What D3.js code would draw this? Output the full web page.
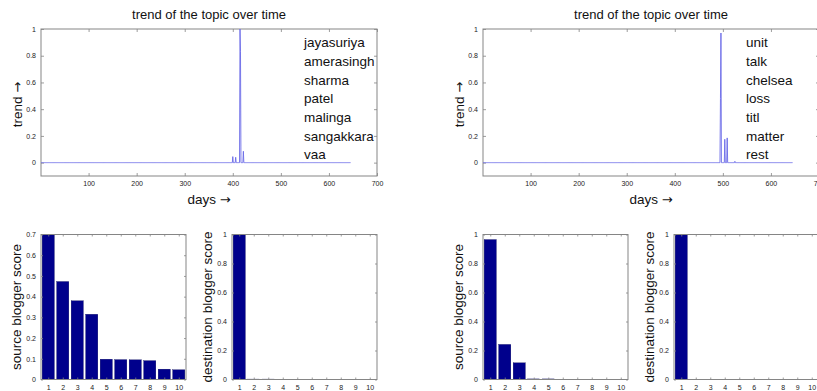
<!DOCTYPE html>
<html><head><meta charset="utf-8">
<script src="https://cdn.jsdelivr.net/npm/d3@7"></script>
<style>
html,body{margin:0;padding:0;background:#fff;overflow:hidden}
svg{display:block;font-family:"Liberation Sans",Arial,Helvetica,sans-serif}
</style></head><body>
<svg id="fig" width="817" height="391"></svg>
<script>
// ---- data ----
const dayCount = 645;                       // days covered by each trend series
const leftPeakDays   = [400, 406, 415, 416, 422];
const leftPeakValues = [0.045, 0.04, 1.0, 0.83, 0.085];
const rightPeakDays   = [495, 496, 504, 509, 525];
const rightPeakValues = [0.48, 0.97, 0.175, 0.185, 0.01];

const leftWords  = ["jayasuriya", "amerasingh", "sharma", "patel", "malinga", "sangakkara", "vaa"];
const rightWords = ["unit", "talk", "chelsea", "loss", "titl", "matter", "rest"];

const dayTicks   = [100, 200, 300, 400, 500, 600, 700];
const trendTicks = [0, 0.2, 0.4, 0.6, 0.8, 1];

const ranks       = [1, 2, 3, 4, 5, 6, 7, 8, 9, 10];
const leftSource  = [0.70, 0.473, 0.380, 0.315, 0.098, 0.096, 0.095, 0.091, 0.050, 0.047];
const leftDest    = [1.0, 0.003, 0.003, 0.002, 0.001, 0, 0, 0, 0, 0];
const rightSource = [0.965, 0.242, 0.115, 0.004, 0.004, 0.001, 0.001, 0.001, 0.001, 0.001];
const rightDest   = [1.0, 0.002, 0.002, 0.002, 0.001, 0.001, 0, 0, 0, 0];

const sourceTicksLeft = [0, 0.1, 0.2, 0.3, 0.4, 0.5, 0.6, 0.7];
const unitTicks       = [0, 0.2, 0.4, 0.6, 0.8, 1];

// ---- styling ----
const AXIS = "#858585";
const LABEL = "#1a1a1a";
const LINE = "#6a6ae8";
const BAR = "#00008c";
const TICKFONT = "7px";
const BIGFONT = "13.5px";

const svg = d3.select("#fig");

function series(peakDays, peakValues) {
  const lookup = new Map(peakDays.map((d, i) => [d, peakValues[i]]));
  return d3.range(1, dayCount + 1).map(d => ({ day: d, v: lookup.has(d) ? lookup.get(d) : 0 }));
}

function styleAxis(g, labels) {
  g.select(".domain").remove();
  g.selectAll(".tick line").attr("stroke", AXIS).attr("stroke-width", 0.8);
  g.selectAll(".tick text").attr("fill", LABEL).style("font-size", TICKFONT)
    .style("font-family", '"Liberation Sans",Arial,sans-serif');
  if (!labels) g.selectAll(".tick text").remove();
}

function box(g, x0, x1, y0, y1) {
  g.append("rect").attr("x", x0).attr("y", y0).attr("width", x1 - x0).attr("height", y1 - y0)
    .attr("fill", "none").attr("stroke", AXIS).attr("stroke-width", 1);
}

// label text followed by a long arrow drawn from DejaVu Sans
function arrowLabel(sel, word) {
  sel.append("tspan").text(word + " ");
  sel.append("tspan").style("font-family", '"DejaVu Sans",sans-serif').style("font-size", "13px").text("\u2192");
}

function trendPanel(ox, peakDays, peakValues, words) {
  const x0 = 41 + ox, x1 = 377 + ox, y0 = 29, y1 = 176;
  const x = d3.scaleLinear().domain([1, 700]).range([x0, x1]);
  const y = d3.scaleLinear().domain([-0.1, 1]).range([y1, y0]);
  const g = svg.append("g");
  const tl = 3;

  g.append("g").attr("transform", `translate(0,${y1})`)
    .call(d3.axisBottom(x).tickValues(dayTicks).tickSize(-tl).tickPadding(5))
    .call(a => styleAxis(a, true));
  g.append("g").attr("transform", `translate(0,${y0})`)
    .call(d3.axisTop(x).tickValues(dayTicks).tickSize(-tl))
    .call(a => styleAxis(a, false));
  g.append("g").attr("transform", `translate(${x0},0)`)
    .call(d3.axisLeft(y).tickValues(trendTicks).tickSize(-tl).tickPadding(5).tickFormat(d3.format("")))
    .call(a => styleAxis(a, true));
  g.append("g").attr("transform", `translate(${x1},0)`)
    .call(d3.axisRight(y).tickValues(trendTicks).tickSize(-tl))
    .call(a => styleAxis(a, false));
  box(g, x0, x1, y0, y1);

  const data = series(peakDays, peakValues);
  g.append("path").datum(data)
    .attr("fill", "none").attr("stroke", LINE).attr("stroke-width", 0.9)
    .attr("d", d3.line().x(d => x(d.day)).y(d => y(d.v)));

  const cx = (x0 + x1) / 2;
  g.append("text").attr("x", cx).attr("y", 18.5).attr("text-anchor", "middle")
    .style("font-size", "13px").attr("fill", "#111").text("trend of the topic over time");
  g.append("text").attr("x", cx).attr("y", 204).attr("text-anchor", "middle")
    .style("font-size", BIGFONT).attr("fill", "#111").call(arrowLabel, "days");
  g.append("text").attr("transform", `translate(${x0 - 19},${(y0 + y1) / 2 + 2}) rotate(-90)`)
    .attr("text-anchor", "middle").style("font-size", BIGFONT).attr("fill", "#111").call(arrowLabel, "trend");

  g.selectAll("text.word").data(words).join("text").attr("class", "word")
    .attr("x", 304 + ox).attr("y", (d, i) => 47.3 + i * 18.67)
    .style("font-size", BIGFONT).attr("fill", "#111").text(d => d);
}

function barPanel(x0, x1, values, yMax, yTicks, label) {
  const y0 = 234.5, y1 = 379.5;
  const x = d3.scaleLinear().domain([0.5, 10.5]).range([x0, x1]);
  const y = d3.scaleLinear().domain([0, yMax]).range([y1, y0]);
  const g = svg.append("g");
  const tl = 2;
  const bw = 0.84;

  g.selectAll("rect.bar").data(ranks).join("rect").attr("class", "bar")
    .attr("x", r => x(r - bw / 2)).attr("width", r => x(r + bw / 2) - x(r - bw / 2))
    .attr("y", (r, i) => y(values[i])).attr("height", (r, i) => y(0) - y(values[i]))
    .attr("fill", BAR).attr("stroke", "#000050").attr("stroke-width", 0.3);

  g.append("g").attr("transform", `translate(0,${y1})`)
    .call(d3.axisBottom(x).tickValues(ranks).tickSize(-tl).tickPadding(6))
    .call(a => styleAxis(a, true));
  g.append("g").attr("transform", `translate(0,${y0})`)
    .call(d3.axisTop(x).tickValues(ranks).tickSize(-tl))
    .call(a => styleAxis(a, false));
  g.append("g").attr("transform", `translate(${x0},0)`)
    .call(d3.axisLeft(y).tickValues(yTicks).tickSize(-tl).tickPadding(5).tickFormat(d3.format("")))
    .call(a => styleAxis(a, true));
  g.append("g").attr("transform", `translate(${x1},0)`)
    .call(d3.axisRight(y).tickValues(yTicks).tickSize(-tl))
    .call(a => styleAxis(a, false));
  box(g, x0, x1, y0, y1);

  g.append("text").attr("transform", `translate(${x0 - 20},${(y0 + y1) / 2}) rotate(-90)`)
    .attr("text-anchor", "middle").style("font-size", BIGFONT).attr("fill", "#111").text(label);
}

// left figure
trendPanel(0, leftPeakDays, leftPeakValues, leftWords);
barPanel(41, 186, leftSource, 0.7, sourceTicksLeft, "source blogger score");
barPanel(232, 377, leftDest, 1, unitTicks, "destination blogger score");

// right figure
trendPanel(442, rightPeakDays, rightPeakValues, rightWords);
barPanel(483, 628, rightSource, 1, unitTicks, "source blogger score");
barPanel(674, 819, rightDest, 1, unitTicks, "destination blogger score");
</script>
</body></html>
